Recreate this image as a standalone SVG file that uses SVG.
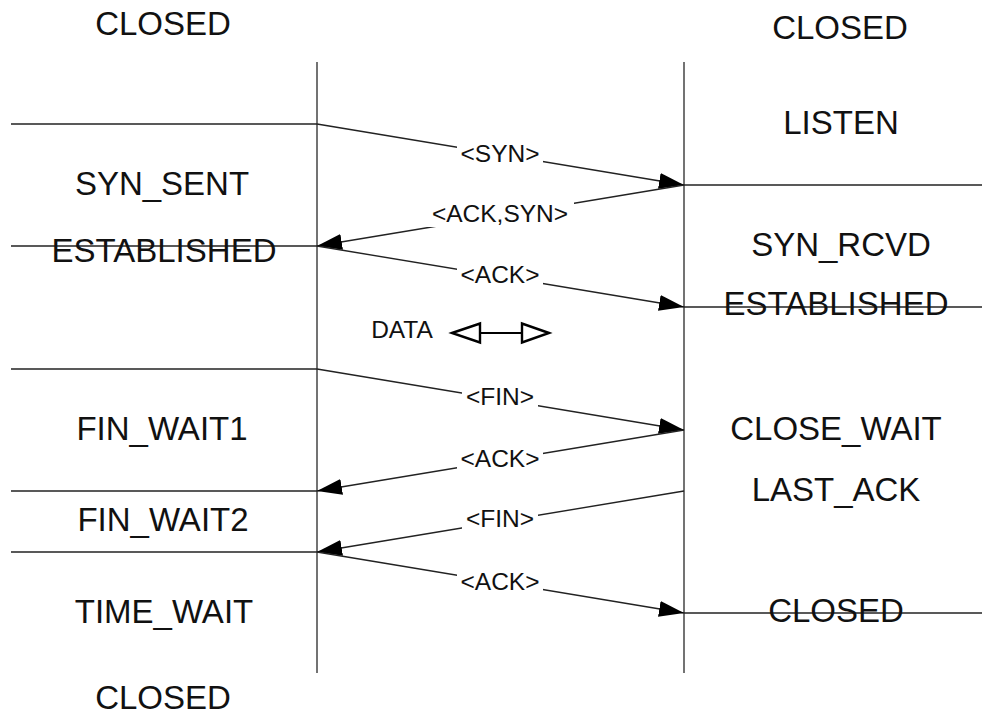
<svg xmlns="http://www.w3.org/2000/svg" width="982" height="717" viewBox="0 0 982 717">
  <defs>
    <style>
      .state { font-family: "Liberation Sans", Arial, sans-serif; font-size: 33px; fill: #111; text-anchor: middle; }
      .msg { font-family: "Liberation Sans", Arial, sans-serif; font-size: 24.5px; fill: #111; text-anchor: middle; }
      .life { stroke: #444; stroke-width: 1.5; fill: none; }
      .tick { stroke: #222; stroke-width: 1.4; fill: none; }
      .arrow { stroke: #222; stroke-width: 1.4; fill: none; marker-end: url(#head); }
      .gap { fill: #fff; }
    </style>
    <marker id="head" markerUnits="userSpaceOnUse" markerWidth="26" markerHeight="18" refX="25" refY="8" orient="auto">
      <path d="M0,0 L25,8 L0,16 Z" fill="#000"/>
    </marker>
  </defs>
  <rect width="982" height="717" fill="#fff"/>

  <!-- lifelines of the two endpoints -->
  <g id="lifelines">
    <line class="life" x1="317" y1="62" x2="317" y2="673"/>
    <line class="life" x1="684" y1="62" x2="684" y2="673"/>
  </g>

  <!-- state boundary ticks -->
  <g id="ticks">
    <line class="tick" x1="11" y1="124" x2="317" y2="124"/>
    <line class="tick" x1="11" y1="246" x2="317" y2="246"/>
    <line class="tick" x1="11" y1="369" x2="317" y2="369"/>
    <line class="tick" x1="11" y1="491" x2="317" y2="491"/>
    <line class="tick" x1="11" y1="552" x2="317" y2="552"/>
    <line class="tick" x1="684" y1="185" x2="982" y2="185"/>
    <line class="tick" x1="684" y1="307" x2="982" y2="307"/>
    <line class="tick" x1="684" y1="613" x2="982" y2="613"/>
  </g>

  <!-- client states -->
  <g id="client-states">
    <text class="state" x="163" y="35">CLOSED</text>
    <text class="state" x="162" y="195">SYN_SENT</text>
    <text class="state" x="164" y="262">ESTABLISHED</text>
    <text class="state" x="162" y="440">FIN_WAIT1</text>
    <text class="state" x="163" y="531">FIN_WAIT2</text>
    <text class="state" x="164" y="623">TIME_WAIT</text>
    <text class="state" x="163" y="709">CLOSED</text>
  </g>

  <!-- server states -->
  <g id="server-states">
    <text class="state" x="840" y="39">CLOSED</text>
    <text class="state" x="841" y="134">LISTEN</text>
    <text class="state" x="841" y="256">SYN_RCVD</text>
    <text class="state" x="836" y="315">ESTABLISHED</text>
    <text class="state" x="836" y="440">CLOSE_WAIT</text>
    <text class="state" x="836" y="501">LAST_ACK</text>
    <text class="state" x="836" y="622">CLOSED</text>
  </g>

  <!-- segments exchanged -->
  <g id="connectors">
    <line class="arrow" x1="317" y1="124" x2="684" y2="185"/>
    <line class="arrow" x1="684" y1="185" x2="317" y2="246"/>
    <line class="arrow" x1="317" y1="246" x2="684" y2="307"/>
    <line class="arrow" x1="317" y1="369" x2="684" y2="430"/>
    <line class="arrow" x1="684" y1="430" x2="317" y2="491"/>
    <line class="arrow" x1="684" y1="491" x2="317" y2="552"/>
    <line class="arrow" x1="317" y1="552" x2="684" y2="613"/>
  </g>

  <!-- segment labels -->
  <g id="labels">
    <rect class="gap" x="457" y="142" width="86" height="25"/>
    <text class="msg" x="500" y="162">&lt;SYN&gt;</text>
    <rect class="gap" x="426" y="202" width="148" height="25"/>
    <text class="msg" x="500" y="222">&lt;ACK,SYN&gt;</text>
    <rect class="gap" x="457" y="263" width="86" height="25"/>
    <text class="msg" x="500" y="283">&lt;ACK&gt;</text>
    <rect class="gap" x="462" y="385" width="76" height="25"/>
    <text class="msg" x="500" y="405">&lt;FIN&gt;</text>
    <rect class="gap" x="457" y="447" width="86" height="25"/>
    <text class="msg" x="500" y="467">&lt;ACK&gt;</text>
    <rect class="gap" x="462" y="507" width="76" height="25"/>
    <text class="msg" x="500" y="527">&lt;FIN&gt;</text>
    <rect class="gap" x="457" y="570" width="86" height="25"/>
    <text class="msg" x="500" y="590">&lt;ACK&gt;</text>
  </g>

  <!-- bidirectional data transfer -->
  <g id="data">
    <text class="msg" x="402" y="338">DATA</text>
    <line x1="480" y1="333" x2="522" y2="333" stroke="#000" stroke-width="2.2"/>
    <path d="M452,333 L480,323.5 L480,342.5 Z" fill="#fff" stroke="#000" stroke-width="2.4"/>
    <path d="M549,333 L522,323.5 L522,342.5 Z" fill="#fff" stroke="#000" stroke-width="2.4"/>
  </g>
</svg>
